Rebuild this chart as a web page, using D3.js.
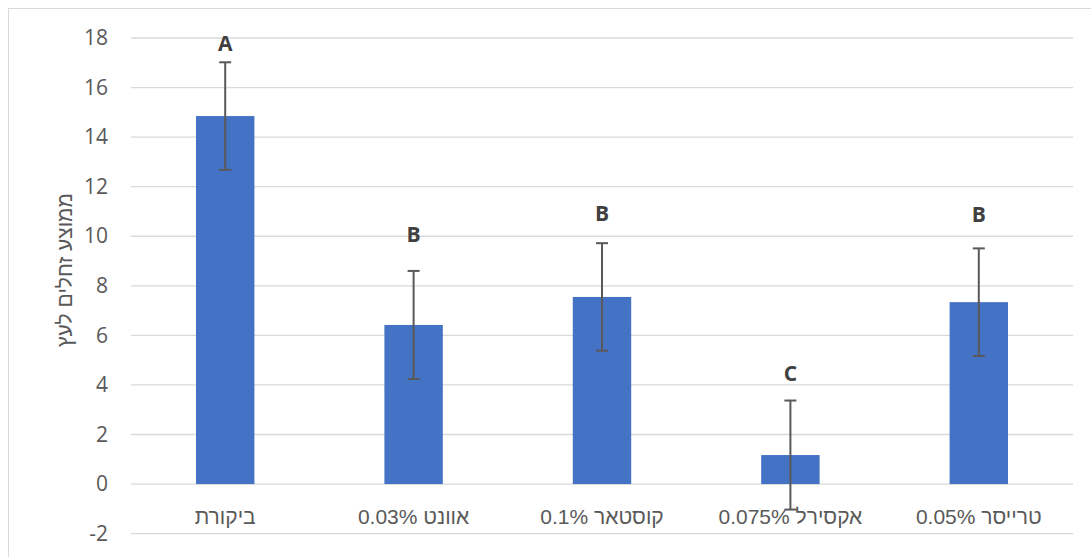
<!DOCTYPE html>
<html>
<head>
<meta charset="utf-8">
<script src="https://cdn.jsdelivr.net/npm/d3@7"></script>
<style>
  body { margin: 0; background: #fff; }
  svg { font-family: "Liberation Sans", "DejaVu Sans", sans-serif; }
</style>
</head>
<body>
<div class="chart-box"></div>
<script>
const categories = ["ביקורת", "אוונט 0.03%", "קוסטאר 0.1%", "אקסירל 0.075%", "טרייסר 0.05%"];
const means = [14.85, 6.42, 7.55, 1.17, 7.34];
const errors = [2.17, 2.18, 2.17, 2.2, 2.17];
const letters = ["A", "B", "B", "C", "B"];
const letterLevels = [17.76, 10.05, 10.9, 4.44, 10.86];
const yTicks = [-2, 0, 2, 4, 6, 8, 10, 12, 14, 16, 18];
const yTitle = "ממוצע זחלים לעץ";

const width = 1091, height = 557;

const svg = d3.select(".chart-box").append("svg")
  .attr("width", width)
  .attr("height", height);

// outer chart border
svg.append("rect")
  .attr("x", 8.5).attr("y", 8.5)
  .attr("width", width).attr("height", height)
  .attr("fill", "none")
  .attr("stroke", "#d9d9d9")
  .attr("stroke-width", 1);

const x = d3.scaleBand()
  .domain(categories)
  .range([131, 1073])
  .paddingInner(0.69)
  .paddingOuter(0.345);

const y = d3.scaleLinear()
  .domain([-2, 18])
  .range([533.6, 38]);

// gridlines
svg.append("g")
  .selectAll("line")
  .data(yTicks)
  .join("line")
  .attr("x1", 131).attr("x2", 1073)
  .attr("y1", d => y(d)).attr("y2", d => y(d))
  .attr("stroke", "#d9d9d9")
  .attr("stroke-width", 1.3);

// y axis labels
const yAxis = d3.axisLeft(y).tickValues(yTicks).tickSize(0).tickPadding(0)
  .tickFormat(d => String(d));
svg.append("g")
  .attr("transform", "translate(108,0)")
  .call(yAxis)
  .call(g => g.select(".domain").remove())
  .call(g => g.selectAll("text")
    .attr("fill", "#595959")
    .attr("font-size", 21)
    .attr("font-family", "\"Open Sans\", sans-serif"));

// y title
svg.append("text")
  .attr("transform", "translate(72,270) rotate(-90)")
  .attr("text-anchor", "middle")
  .attr("direction", "rtl")
  .attr("fill", "#595959")
  .attr("font-size", 21)
  .text(yTitle);

// bars
svg.append("g")
  .selectAll("rect")
  .data(means)
  .join("rect")
  .attr("x", (d, i) => x(categories[i]))
  .attr("width", x.bandwidth())
  .attr("y", d => y(Math.max(d, 0)))
  .attr("height", d => Math.abs(y(d) - y(0)))
  .attr("fill", "#4472c4");

// error bars
const eb = svg.append("g")
  .attr("stroke", "#595959")
  .attr("stroke-width", 2);
means.forEach((m, i) => {
  const cx = x(categories[i]) + x.bandwidth() / 2;
  const hi = y(m + errors[i]), lo = y(m - errors[i]);
  eb.append("line").attr("x1", cx).attr("x2", cx).attr("y1", hi).attr("y2", lo);
  eb.append("line").attr("x1", cx - 6).attr("x2", cx + 6).attr("y1", hi).attr("y2", hi);
  eb.append("line").attr("x1", cx - 6).attr("x2", cx + 6).attr("y1", lo).attr("y2", lo);
});

// significance letters
svg.append("g")
  .selectAll("text")
  .data(letters)
  .join("text")
  .attr("x", (d, i) => x(categories[i]) + x.bandwidth() / 2)
  .attr("y", (d, i) => y(letterLevels[i]))
  .attr("dy", "0.35em")
  .attr("text-anchor", "middle")
  .attr("font-family", "\"Open Sans\", sans-serif")
  .attr("font-weight", "bold")
  .attr("font-size", 21)
  .attr("fill", "#404040")
  .text(d => d);

// category labels
svg.append("g")
  .selectAll("text")
  .data(categories)
  .join("text")
  .attr("x", d => x(d) + x.bandwidth() / 2)
  .attr("y", 517)
  .attr("dy", "0.35em")
  .attr("text-anchor", "middle")
  .attr("direction", "rtl")
  .attr("fill", "#595959")
  .attr("font-size", 21)
  .text(d => d);
</script>
</body>
</html>
